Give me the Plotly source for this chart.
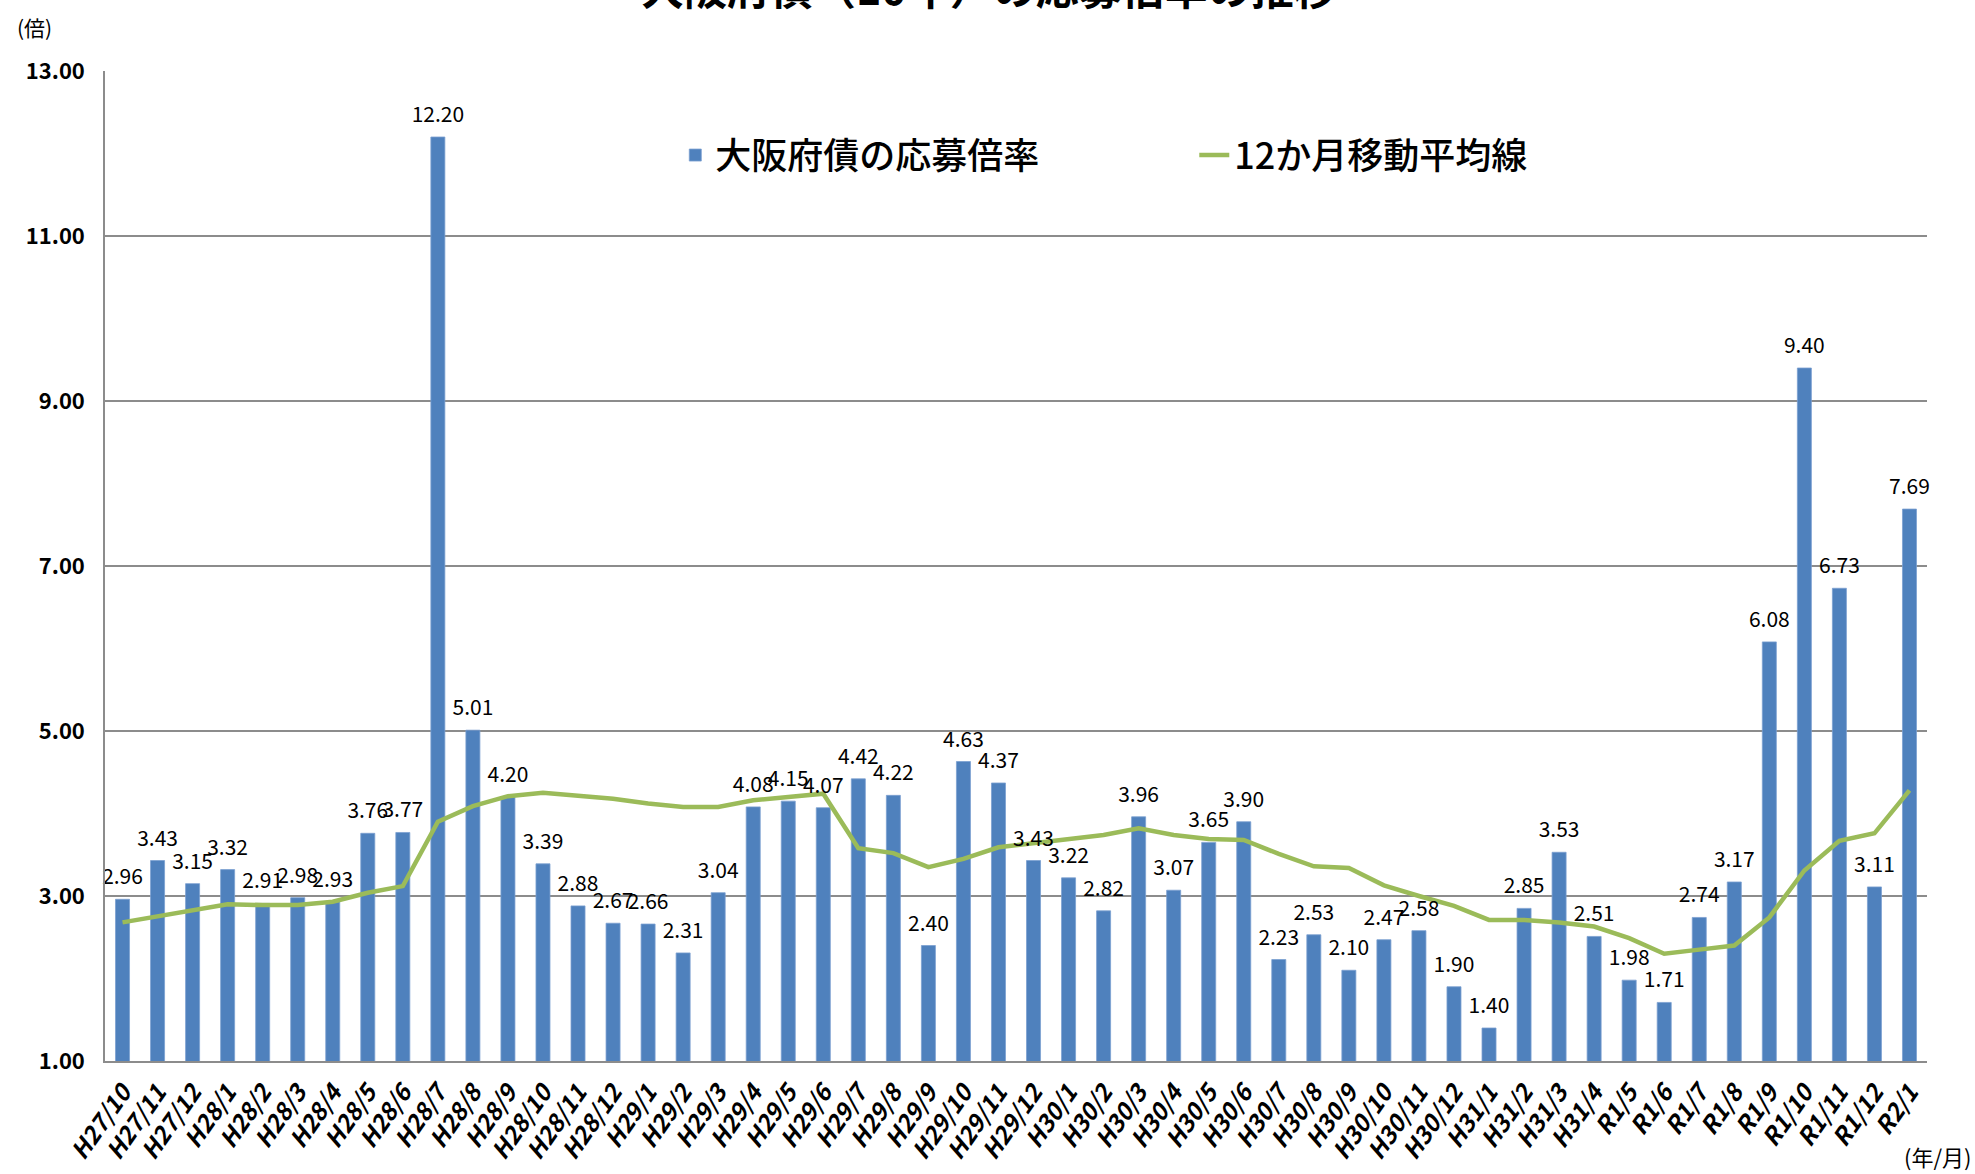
import plotly.graph_objects as go

categories = ["H27/10", "H27/11", "H27/12",
              "H28/1", "H28/2", "H28/3", "H28/4", "H28/5", "H28/6", "H28/7", "H28/8", "H28/9", "H28/10", "H28/11", "H28/12",
              "H29/1", "H29/2", "H29/3", "H29/4", "H29/5", "H29/6", "H29/7", "H29/8", "H29/9", "H29/10", "H29/11", "H29/12",
              "H30/1", "H30/2", "H30/3", "H30/4", "H30/5", "H30/6", "H30/7", "H30/8", "H30/9", "H30/10", "H30/11", "H30/12",
              "H31/1", "H31/2", "H31/3", "H31/4",
              "R1/5", "R1/6", "R1/7", "R1/8", "R1/9", "R1/10", "R1/11", "R1/12", "R2/1"]

ratio = [2.96, 3.43, 3.15,
         3.32, 2.91, 2.98, 2.93, 3.76, 3.77, 12.20, 5.01, 4.20, 3.39, 2.88, 2.67,
         2.66, 2.31, 3.04, 4.08, 4.15, 4.07, 4.42, 4.22, 2.40, 4.63, 4.37, 3.43,
         3.22, 2.82, 3.96, 3.07, 3.65, 3.90, 2.23, 2.53, 2.10, 2.47, 2.58, 1.90,
         1.40, 2.85, 3.53, 2.51,
         1.98, 1.71, 2.74, 3.17, 6.08, 9.40, 6.73, 3.11, 7.69]

moving_avg = [2.68, 2.75, 2.82,
              2.90, 2.89, 2.89, 2.93, 3.04, 3.12, 3.90, 4.09, 4.21, 4.25, 4.21, 4.18,
              4.12, 4.08, 4.08, 4.16, 4.20, 4.24, 3.58, 3.52, 3.35, 3.45, 3.59, 3.64,
              3.70, 3.74, 3.82, 3.74, 3.69, 3.68, 3.51, 3.36, 3.34, 3.13, 3.00, 2.88,
              2.71, 2.71, 2.68, 2.63,
              2.49, 2.30, 2.35, 2.40, 2.74, 3.31, 3.67, 3.76, 4.28]

y_ticks = [1, 3, 5, 7, 9, 11, 13]

title_text = "大阪府債（10年）の応募倍率の推移"
bar_name = "大阪府債の応募倍率"
line_name = "12か月移動平均線"
y_unit = "(倍)"
x_unit = "(年/月)"

NUM_FONT = "Noto Sans CJK JP, Liberation Sans, sans-serif"
CJK_FONT = "Noto Sans CJK JP, Noto Sans, sans-serif"

fig = go.Figure()
fig.add_trace(go.Bar(
    x=categories, y=ratio, name=bar_name,
    marker=dict(color="#4F81BD", line=dict(color="#7BA0D0", width=0.8)),
    width=0.4,
    hoverinfo="skip",
))
fig.add_trace(go.Scatter(
    x=categories, y=moving_avg, name=line_name, mode="lines",
    line=dict(color="#9BBB59", width=4.5),
    hoverinfo="skip",
))
# value labels above the bars
fig.add_trace(go.Scatter(
    x=categories, y=ratio, mode="markers+text",
    marker=dict(size=14, opacity=0),
    text=[f"{v:.2f}" for v in ratio], textposition="top center",
    textfont=dict(family=NUM_FONT, size=21, color="#000000"),
    cliponaxis=False, showlegend=False, hoverinfo="skip",
))

fig.update_layout(
    width=1975, height=1174,
    margin=dict(l=105, r=48, t=71, b=113, autoexpand=False),
    paper_bgcolor="white", plot_bgcolor="white",
    bargap=0.6,
    showlegend=True,
    legend=dict(
        orientation="h", x=0.313, xanchor="left", y=0.915, yanchor="middle",
        font=dict(family=CJK_FONT, size=36, color="#000000", weight=500),
        entrywidth=474, itemwidth=30, bgcolor="rgba(0,0,0,0)",
    ),
    annotations=[
        dict(text=title_text, xref="paper", yref="paper", x=0.485, y=1.086,
             xanchor="center", yanchor="middle", showarrow=False,
             font=dict(family=CJK_FONT, size=43, color="#000000", weight="bold")),
        dict(text=y_unit, xref="paper", yref="paper", x=-0.0494, y=1.044,
             xanchor="left", yanchor="middle", showarrow=False,
             font=dict(family=CJK_FONT, size=21, color="#000000")),
        dict(text=x_unit, xref="paper", yref="paper", x=0.9863, y=-0.096,
             xanchor="left", yanchor="middle", showarrow=False,
             font=dict(family=CJK_FONT, size=22, color="#000000")),
    ],
)

fig.update_xaxes(
    type="category", automargin=False,
    range=[-0.5, len(categories) - 0.5], autorange=False,
    showline=True, linecolor="#8C8C8C", linewidth=2,
    showgrid=False, ticks="",
    tickangle=-55,
    tickfont=dict(family=NUM_FONT, size=24, color="#000000", weight="bold", style="italic"),
    ticklabelstandoff=6,
)
fig.update_yaxes(
    range=[1, 13], tickvals=y_ticks, tickformat=".2f", automargin=False,
    showgrid=True, gridcolor="#8C8C8C", gridwidth=1.5,
    showline=True, linecolor="#8C8C8C", linewidth=1.5,
    zeroline=False, ticks="",
    tickfont=dict(family=NUM_FONT, size=22, color="#000000", weight="bold"),
    ticklabelstandoff=14,
)

fig.write_html("out.html", config={"displayModeBar": False},
               post_script="document.body.style.margin='0';")
